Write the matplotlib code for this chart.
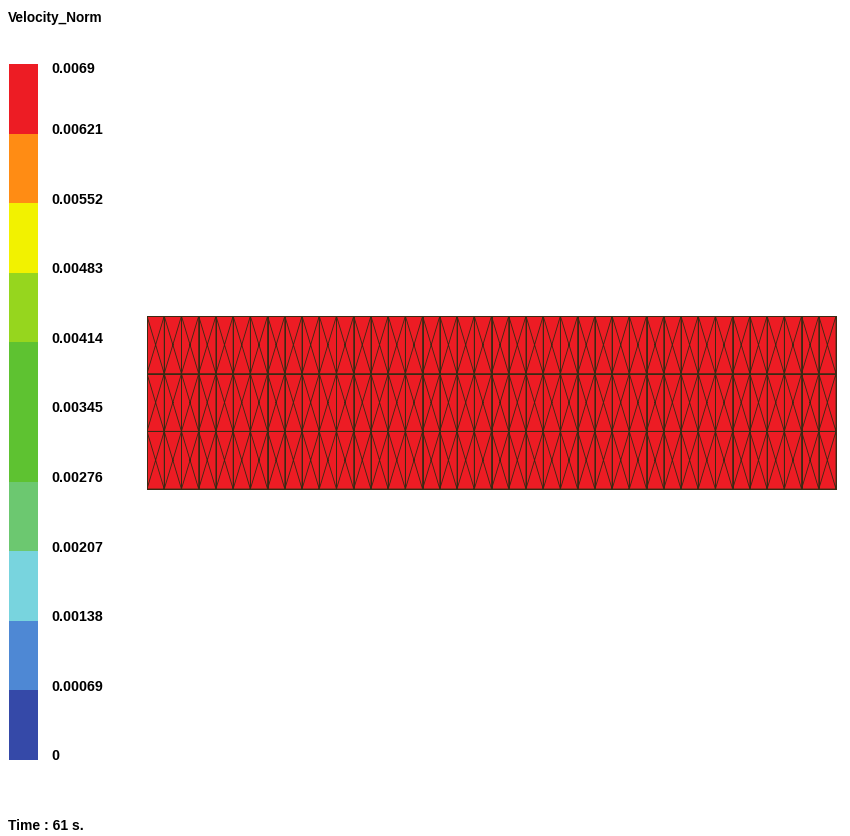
#!/usr/bin/env python3
import numpy as np
import matplotlib
matplotlib.use("Agg")
import matplotlib.pyplot as plt
import matplotlib.tri as mtri

W, H = 850, 836
FONT = "Liberation Sans"
LINE = "#3a2a14"

levels = [0, 0.00069, 0.00138, 0.00207, 0.00276, 0.00345, 0.00414, 0.00483,
          0.00552, 0.00621, 0.0069]
level_labels = ["0", "0.00069", "0.00138", "0.00207", "0.00276", "0.00345",
                "0.00414", "0.00483", "0.00552", "0.00621", "0.0069"]
band_colours = ["#3549a8", "#4e88d4", "#78d4de", "#6cc870", "#5ec231",
                "#5ec231", "#96d61e", "#f2f200", "#ff8c14", "#ed1c24"]
title = "Velocity_Norm"
time_label = "Time : 61 s."
n_cols = 40
n_rows = 3
mesh_value = 0.0069


def px_axes(fig, left, top, right, bottom):
    return fig.add_axes([left / W, 1 - bottom / H, (right - left) / W, (bottom - top) / H])


def build_mesh():
    # corner nodes plus one centre node per cell, four triangles in each cell
    xs, ys = np.meshgrid(np.arange(n_cols + 1), np.arange(n_rows + 1))
    cx, cy = np.meshgrid(np.arange(n_cols) + 0.5, np.arange(n_rows) + 0.5)
    x = np.concatenate([xs.ravel(), cx.ravel()])
    y = np.concatenate([ys.ravel(), cy.ravel()])
    n_corner = xs.size
    tris = []
    for r in range(n_rows):
        for c in range(n_cols):
            a = r * (n_cols + 1) + c
            b = a + 1
            d = a + n_cols + 1
            e = d + 1
            m = n_corner + r * n_cols + c
            tris += [[a, b, m], [b, e, m], [e, d, m], [d, a, m]]
    return mtri.Triangulation(x, y, tris)


fig = plt.figure(figsize=(W / 100, H / 100), dpi=100, facecolor="white")

# colour bar
cbar = px_axes(fig, 9, 64, 38, 760)
cbar.bar(0, np.diff(levels), bottom=levels[:-1], width=1, color=band_colours, linewidth=0)
cbar.set_xlim(-0.5, 0.5)
cbar.set_ylim(levels[0], levels[-1])
cbar.axis("off")

# labels follow the bar's scale 5px higher up, the top one is pushed back inside
lab = px_axes(fig, 51.5, 60.5, 110, 756.5)
lab.set_ylim(levels[0], levels[-1])
lab.set_xlim(0, 1)
lab.axis("off")
for v, s in zip(levels[:-1], level_labels[:-1]):
    lab.text(0, v, s, ha="left", va="center", fontsize=10.3, fontweight="bold",
             family=FONT, color="black")
fig.text(51.5 / W, 1 - 69 / H, level_labels[-1], ha="left", va="center",
         fontsize=10.3, fontweight="bold", family=FONT)

# mesh
ax = px_axes(fig, 147, 316, 836, 489)
tri = build_mesh()
ax.tripcolor(tri, np.full(tri.x.size, mesh_value), cmap=matplotlib.colors.ListedColormap(["#ed1c24"]),
             shading="flat", vmin=0, vmax=levels[-1])
ax.triplot(tri, color=LINE, linewidth=0.62, antialiased=True)
ax.hlines(np.arange(1, n_rows), 0, n_cols, color=LINE, linewidth=0.72)
ax.vlines(np.arange(1, n_cols), 0, n_rows, color=LINE, linewidth=0.72)
ax.set_xlim(0, n_cols)
ax.set_ylim(0, n_rows)
ax.set_xticks([])
ax.set_yticks([])
for sp in ax.spines.values():
    sp.set_color(LINE)
    sp.set_linewidth(0.72)

fig.text(8 / W, 1 - 18 / H, title, ha="left", va="center", fontsize=9.8,
         fontweight="bold", family=FONT)
fig.text(8 / W, 1 - 826 / H, time_label, ha="left", va="center", fontsize=10,
         fontweight="bold", family=FONT)

fig.savefig("out.png", dpi=100)
